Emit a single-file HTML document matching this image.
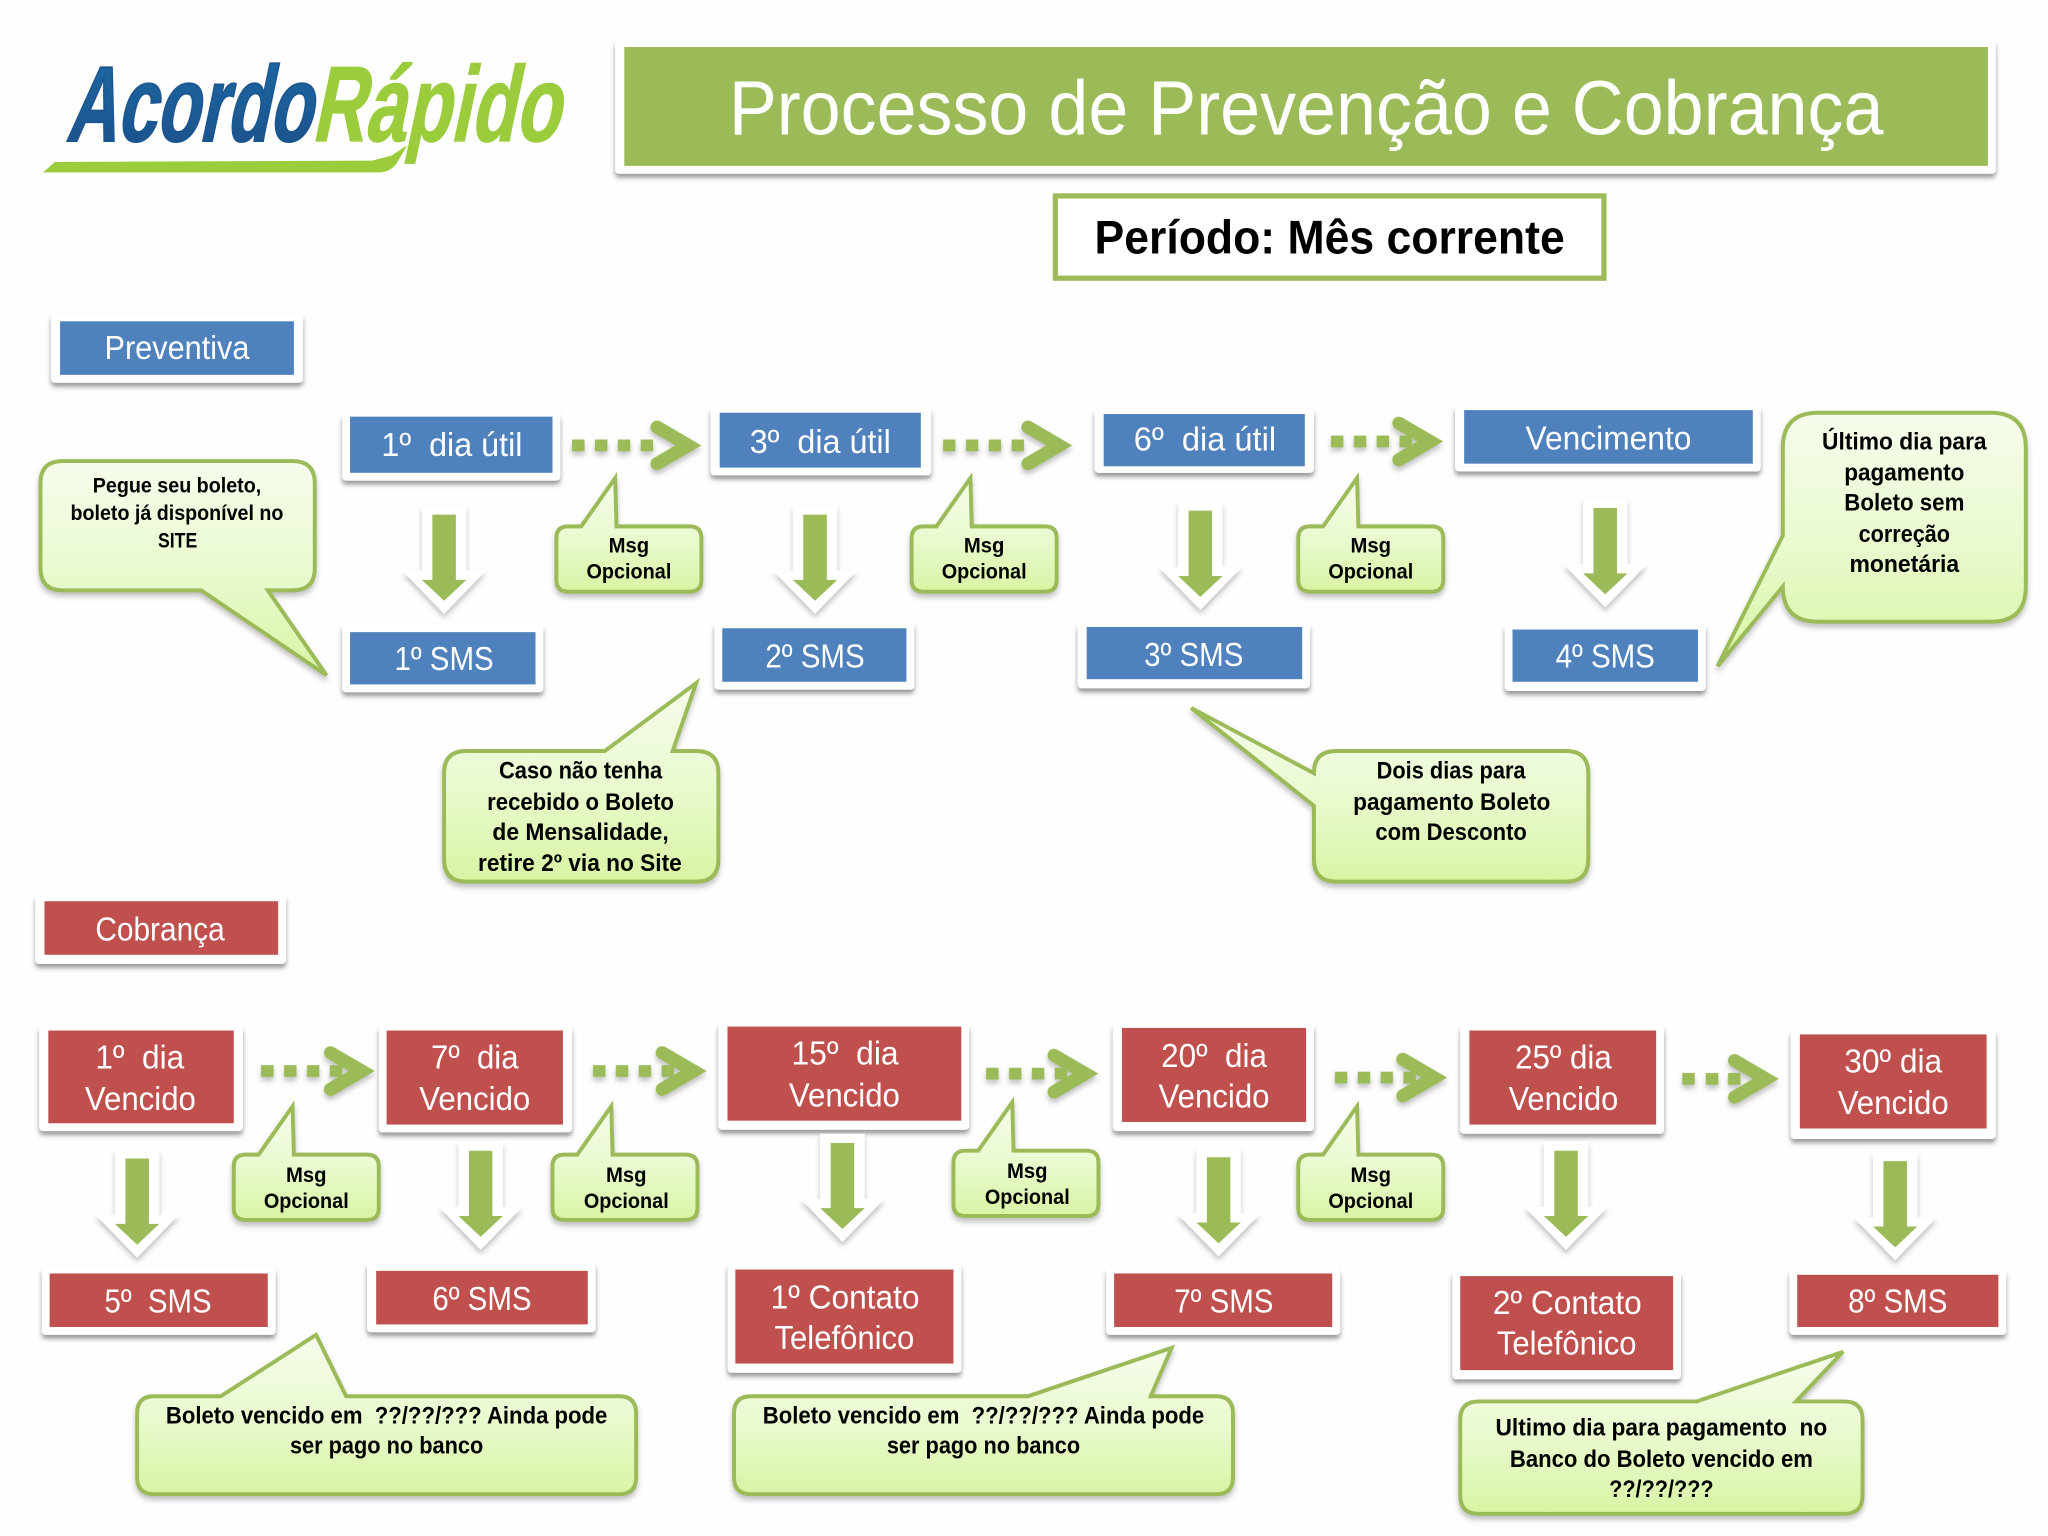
<!DOCTYPE html>
<html lang="pt">
<head>
<meta charset="utf-8">
<title>Processo de Prevenção e Cobrança</title>
<style>
html,body{margin:0;padding:0;background:#fff;width:2048px;height:1536px;overflow:hidden}
svg{display:block}
text{font-family:"Liberation Sans",sans-serif}
.w{fill:#fff;font-size:25.5px}
.b{fill:#000;font-weight:bold;font-size:18.5px}
.m{fill:#000;font-weight:bold;font-size:16px}
.fr rect{fill:#fff}
.bl{fill:#4F81BD}
.rd{fill:#C0504D}
.co{fill:url(#g);stroke:#9BBB59;stroke-width:3;stroke-linejoin:miter}
</style>
</head>
<body>
<svg xmlns="http://www.w3.org/2000/svg" width="2048" height="1536" viewBox="0 0 1568 1176">
<defs>
<filter id="s" x="-10%" y="-10%" width="120%" height="130%"><feDropShadow dx="0" dy="3" stdDeviation="1.8" flood-color="#555" flood-opacity=".6"/></filter>
<filter id="s2" x="-10%" y="-10%" width="120%" height="130%"><feDropShadow dx="0" dy="3" stdDeviation="2" flood-color="#777" flood-opacity=".45"/></filter>
<linearGradient id="g" x1="0" y1="0" x2="0" y2="1"><stop offset="0" stop-color="#f6fcec"/><stop offset=".5" stop-color="#eafad0"/><stop offset="1" stop-color="#d9f4a4"/></linearGradient>
<linearGradient id="lb" x1="0" y1="0" x2="0" y2="1"><stop offset="0" stop-color="#1d6aa5"/><stop offset="1" stop-color="#1b4f8a"/></linearGradient>
<g id="dots"><rect x="0" y="-4.5" width="9.5" height="9" fill="#9BBB59"/><rect x="17.5" y="-4.5" width="9.5" height="9" fill="#9BBB59"/><rect x="35" y="-4.5" width="9.5" height="9" fill="#9BBB59"/><rect x="52.5" y="-4.5" width="9.5" height="9" fill="#9BBB59"/></g>
<polyline id="chev" points="-34,-14 -10,0 -34,14" fill="none" stroke="#9BBB59" stroke-width="10" stroke-linecap="round" stroke-linejoin="miter"/>
<g id="down"><polygon points="-17,-7 17,-7 17,43 32,43 0,76 -32,43 -17,43" fill="#fff" filter="url(#s2)"/><polygon points="-9,0 9,0 9,50 17,50 0,66 -17,50 -9,50" fill="#9BBB59"/></g>
<path id="msg" class="co" d="M9 0H19L45-37L46 0H102Q111 0 111 9V41Q111 50 102 50H9Q0 50 0 41V9Q0 0 9 0Z"/>
</defs>

<rect width="1568" height="1176" fill="#fefefe"/>

<!-- logo -->
<path d="M33 132L42 124L285 123L300 119L312 111L303 126Q298 132 290 132Z" fill="#9bcc3c"/>
<text transform="translate(50 108) skewX(-12)" font-size="82" font-weight="bold" fill="url(#lb)" stroke="#1b5590" stroke-width="1.5" textLength="188" lengthAdjust="spacingAndGlyphs">Acordo</text>
<text transform="translate(238 108) skewX(-12)" font-size="82" font-weight="bold" fill="#9bcc3c" stroke="#9bcc3c" stroke-width="1" textLength="190" lengthAdjust="spacingAndGlyphs">Rápido</text>

<!-- frames -->
<g class="fr" filter="url(#s)">
<rect x="471" y="31" width="1057" height="102" rx="3"/>
<rect x="39" y="240" width="193" height="53" rx="3"/>
<rect x="262" y="316" width="167" height="52" rx="3"/>
<rect x="544" y="312" width="169" height="52" rx="3"/>
<rect x="838" y="313" width="168" height="49" rx="3"/>
<rect x="1114" y="310" width="234" height="51" rx="3"/>
<rect x="262" y="478" width="154" height="52" rx="3"/>
<rect x="547" y="476" width="153" height="52" rx="3"/>
<rect x="825" y="477" width="178" height="50" rx="3"/>
<rect x="1152" y="478" width="154" height="51" rx="3"/>
<rect x="27" y="685" width="192" height="53" rx="3"/>
<rect x="30" y="785" width="156" height="81" rx="3"/>
<rect x="290" y="785" width="148" height="82" rx="3"/>
<rect x="550" y="783" width="192" height="82" rx="3"/>
<rect x="852" y="784" width="154" height="82" rx="3"/>
<rect x="1118" y="785" width="156" height="83" rx="3"/>
<rect x="1371" y="788" width="157" height="84" rx="3"/>
<rect x="32" y="970" width="179" height="52" rx="3"/>
<rect x="281" y="966" width="175" height="54" rx="3"/>
<rect x="557" y="968" width="179" height="83" rx="3"/>
<rect x="847" y="971" width="179" height="51" rx="3"/>
<rect x="1112" y="973" width="175" height="83" rx="3"/>
<rect x="1370" y="972" width="166" height="50" rx="3"/>
</g>

<!-- inner fills -->
<rect x="478" y="36" width="1044" height="91" fill="#9BBB59"/>
<rect x="46" y="246" width="179" height="41" class="bl"/>
<rect x="268" y="319" width="155" height="43" class="bl"/>
<rect x="551" y="316" width="154" height="42" class="bl"/>
<rect x="845" y="317" width="154" height="40" class="bl"/>
<rect x="1121" y="314" width="221" height="41" class="bl"/>
<rect x="268" y="484" width="142" height="40" class="bl"/>
<rect x="553" y="481" width="141" height="41" class="bl"/>
<rect x="832" y="480" width="165" height="40" class="bl"/>
<rect x="1158" y="482" width="142" height="40" class="bl"/>
<rect x="34" y="690" width="179" height="41" class="rd"/>
<rect x="37" y="789" width="142" height="71" class="rd"/>
<rect x="296" y="789" width="135" height="72" class="rd"/>
<rect x="557" y="786" width="179" height="72" class="rd"/>
<rect x="859" y="787" width="141" height="72" class="rd"/>
<rect x="1125" y="789" width="143" height="72" class="rd"/>
<rect x="1378" y="792" width="143" height="72" class="rd"/>
<rect x="38" y="975" width="167" height="41" class="rd"/>
<rect x="288" y="973" width="162" height="41" class="rd"/>
<rect x="563" y="972" width="167" height="72" class="rd"/>
<rect x="853" y="975" width="167" height="41" class="rd"/>
<rect x="1118" y="977" width="163" height="72" class="rd"/>
<rect x="1376" y="976" width="154" height="40" class="rd"/>

<!-- período -->
<rect x="808" y="150" width="420" height="63" fill="#fff" stroke="#9BBB59" stroke-width="4"/>

<!-- dotted arrows -->
<g filter="url(#s2)">
<use href="#dots" x="438" y="341"/><use href="#chev" x="537" y="341"/>
<use href="#dots" x="722" y="341"/><use href="#chev" x="821" y="341"/>
<use href="#dots" x="1019" y="338"/><use href="#chev" x="1105" y="338"/>
<use href="#dots" x="200" y="820"/><use href="#chev" x="287" y="820"/>
<use href="#dots" x="454" y="820"/><use href="#chev" x="541" y="820"/>
<use href="#dots" x="755" y="822"/><use href="#chev" x="841" y="822"/>
<use href="#dots" x="1022" y="825"/><use href="#chev" x="1108" y="825"/>
<rect x="1288" y="821.5" width="9.5" height="9" fill="#9BBB59"/><rect x="1306" y="821.5" width="9.5" height="9" fill="#9BBB59"/><rect x="1323" y="821.5" width="9.5" height="9" fill="#9BBB59"/>
<use href="#chev" x="1362" y="826"/>
</g>

<!-- down arrows -->
<use href="#down" x="340" y="394"/>
<use href="#down" x="624" y="394"/>
<use href="#down" x="919" y="391"/>
<use href="#down" x="1229" y="389"/>
<use href="#down" x="105" y="887"/>
<use href="#down" x="368" y="881"/>
<use href="#down" x="645" y="875"/>
<use href="#down" x="933" y="886"/>
<use href="#down" x="1199" y="881"/>
<use href="#down" x="1451" y="889"/>

<!-- callouts -->
<g filter="url(#s2)">
<path class="co" d="M48 353H224Q241 353 241 370V435Q241 452 224 452H205L250 517L154 452H48Q31 452 31 435V370Q31 353 48 353Z"/>
<path class="co" d="M357 575H463L533 523L515 575H533Q550 575 550 592V658Q550 675 533 675H357Q340 675 340 658V592Q340 575 357 575Z"/>
<path class="co" d="M1023 575H1199Q1216 575 1216 592V658Q1216 675 1199 675H1023Q1006 675 1006 658V617L912 542L1006 592Q1006 575 1023 575Z"/>
<path class="co" d="M1392 316H1524Q1551 316 1551 343V449Q1551 476 1524 476H1392Q1365 476 1365 449L1315 510L1365 410V343Q1365 316 1392 316Z"/>
<path class="co" d="M118 1069H169L242 1022L265 1069H474Q487 1069 487 1082V1131Q487 1144 474 1144H118Q105 1144 105 1131V1082Q105 1069 118 1069Z"/>
<path class="co" d="M575 1069H787L897 1032L881 1069H931Q944 1069 944 1082V1131Q944 1144 931 1144H575Q562 1144 562 1131V1082Q562 1069 575 1069Z"/>
<path class="co" d="M1132 1073H1299L1411 1035L1375 1073H1412Q1426 1073 1426 1087V1145Q1426 1159 1412 1159H1132Q1118 1159 1118 1145V1087Q1118 1073 1132 1073Z"/>
<use href="#msg" x="426" y="403"/>
<use href="#msg" x="698" y="403"/>
<use href="#msg" x="994" y="403"/>
<use href="#msg" x="179" y="884"/>
<use href="#msg" x="423" y="884"/>
<use href="#msg" x="730" y="881"/>
<use href="#msg" x="994" y="884"/>
</g>

<!-- headings -->
<text x="558" y="103" font-size="59" fill="#fff" textLength="884" lengthAdjust="spacingAndGlyphs">Processo de Prevenção e Cobrança</text>
<text x="838" y="194" font-size="36" font-weight="bold" fill="#000" textLength="360" lengthAdjust="spacingAndGlyphs">Período: Mês corrente</text>

<!-- white labels -->
<text class="w" x="80" y="275" textLength="111" lengthAdjust="spacingAndGlyphs">Preventiva</text>
<text class="w" x="292" y="349" textLength="108" lengthAdjust="spacingAndGlyphs">1º&#160; dia útil</text>
<text class="w" x="574" y="347" textLength="108" lengthAdjust="spacingAndGlyphs">3º&#160; dia útil</text>
<text class="w" x="868" y="345" textLength="109" lengthAdjust="spacingAndGlyphs">6º&#160; dia útil</text>
<text class="w" x="1168" y="344" textLength="127" lengthAdjust="spacingAndGlyphs">Vencimento</text>
<text class="w" x="302" y="513" textLength="76" lengthAdjust="spacingAndGlyphs">1º SMS</text>
<text class="w" x="586" y="511" textLength="76" lengthAdjust="spacingAndGlyphs">2º SMS</text>
<text class="w" x="876" y="510" textLength="76" lengthAdjust="spacingAndGlyphs">3º SMS</text>
<text class="w" x="1191" y="511" textLength="76" lengthAdjust="spacingAndGlyphs">4º SMS</text>
<text class="w" x="73" y="720" textLength="99" lengthAdjust="spacingAndGlyphs">Cobrança</text>
<text class="w" x="73" y="818" textLength="68" lengthAdjust="spacingAndGlyphs">1º&#160; dia</text>
<text class="w" x="65" y="850" textLength="85" lengthAdjust="spacingAndGlyphs">Vencido</text>
<text class="w" x="330" y="818" textLength="67" lengthAdjust="spacingAndGlyphs">7º&#160; dia</text>
<text class="w" x="321" y="850" textLength="85" lengthAdjust="spacingAndGlyphs">Vencido</text>
<text class="w" x="606" y="815" textLength="82" lengthAdjust="spacingAndGlyphs">15º&#160; dia</text>
<text class="w" x="604" y="847" textLength="85" lengthAdjust="spacingAndGlyphs">Vencido</text>
<text class="w" x="889" y="817" textLength="81" lengthAdjust="spacingAndGlyphs">20º&#160; dia</text>
<text class="w" x="887" y="848" textLength="85" lengthAdjust="spacingAndGlyphs">Vencido</text>
<text class="w" x="1160" y="818" textLength="74" lengthAdjust="spacingAndGlyphs">25º dia</text>
<text class="w" x="1155" y="850" textLength="84" lengthAdjust="spacingAndGlyphs">Vencido</text>
<text class="w" x="1412" y="821" textLength="75" lengthAdjust="spacingAndGlyphs">30º dia</text>
<text class="w" x="1407" y="853" textLength="85" lengthAdjust="spacingAndGlyphs">Vencido</text>
<text class="w" x="80" y="1005" textLength="82" lengthAdjust="spacingAndGlyphs">5º&#160; SMS</text>
<text class="w" x="331" y="1003" textLength="76" lengthAdjust="spacingAndGlyphs">6º SMS</text>
<text class="w" x="590" y="1002" textLength="114" lengthAdjust="spacingAndGlyphs">1º Contato</text>
<text class="w" x="593" y="1033" textLength="107" lengthAdjust="spacingAndGlyphs">Telefônico</text>
<text class="w" x="899" y="1005" textLength="76" lengthAdjust="spacingAndGlyphs">7º SMS</text>
<text class="w" x="1143" y="1006" textLength="114" lengthAdjust="spacingAndGlyphs">2º Contato</text>
<text class="w" x="1146" y="1037" textLength="107" lengthAdjust="spacingAndGlyphs">Telefônico</text>
<text class="w" x="1415" y="1005" textLength="76" lengthAdjust="spacingAndGlyphs">8º SMS</text>

<!-- msg labels -->
<text class="m" x="466" y="423" textLength="31" lengthAdjust="spacingAndGlyphs">Msg</text>
<text class="m" x="449" y="443" textLength="65" lengthAdjust="spacingAndGlyphs">Opcional</text>
<text class="m" x="738" y="423" textLength="31" lengthAdjust="spacingAndGlyphs">Msg</text>
<text class="m" x="721" y="443" textLength="65" lengthAdjust="spacingAndGlyphs">Opcional</text>
<text class="m" x="1034" y="423" textLength="31" lengthAdjust="spacingAndGlyphs">Msg</text>
<text class="m" x="1017" y="443" textLength="65" lengthAdjust="spacingAndGlyphs">Opcional</text>
<text class="m" x="219" y="905" textLength="31" lengthAdjust="spacingAndGlyphs">Msg</text>
<text class="m" x="202" y="925" textLength="65" lengthAdjust="spacingAndGlyphs">Opcional</text>
<text class="m" x="464" y="905" textLength="31" lengthAdjust="spacingAndGlyphs">Msg</text>
<text class="m" x="447" y="925" textLength="65" lengthAdjust="spacingAndGlyphs">Opcional</text>
<text class="m" x="771" y="902" textLength="31" lengthAdjust="spacingAndGlyphs">Msg</text>
<text class="m" x="754" y="922" textLength="65" lengthAdjust="spacingAndGlyphs">Opcional</text>
<text class="m" x="1034" y="905" textLength="31" lengthAdjust="spacingAndGlyphs">Msg</text>
<text class="m" x="1017" y="925" textLength="65" lengthAdjust="spacingAndGlyphs">Opcional</text>

<!-- callout labels -->
<text class="m" x="71" y="377" textLength="129" lengthAdjust="spacingAndGlyphs">Pegue seu boleto,</text>
<text class="m" x="54" y="398" textLength="163" lengthAdjust="spacingAndGlyphs">boleto já disponível no</text>
<text class="m" x="121" y="419" textLength="30" lengthAdjust="spacingAndGlyphs">SITE</text>

<text class="b" x="382" y="596" textLength="125" lengthAdjust="spacingAndGlyphs">Caso não tenha</text>
<text class="b" x="373" y="620" textLength="143" lengthAdjust="spacingAndGlyphs">recebido o Boleto</text>
<text class="b" x="377" y="643" textLength="135" lengthAdjust="spacingAndGlyphs">de Mensalidade,</text>
<text class="b" x="366" y="667" textLength="156" lengthAdjust="spacingAndGlyphs">retire 2º via no Site</text>

<text class="b" x="1054" y="596" textLength="114" lengthAdjust="spacingAndGlyphs">Dois dias para</text>
<text class="b" x="1036" y="620" textLength="151" lengthAdjust="spacingAndGlyphs">pagamento Boleto</text>
<text class="b" x="1053" y="643" textLength="116" lengthAdjust="spacingAndGlyphs">com Desconto</text>

<text class="b" x="1395" y="344" textLength="126" lengthAdjust="spacingAndGlyphs">Último dia para</text>
<text class="b" x="1412" y="368" textLength="92" lengthAdjust="spacingAndGlyphs">pagamento</text>
<text class="b" x="1412" y="391" textLength="92" lengthAdjust="spacingAndGlyphs">Boleto sem</text>
<text class="b" x="1423" y="415" textLength="70" lengthAdjust="spacingAndGlyphs">correção</text>
<text class="b" x="1416" y="438" textLength="84" lengthAdjust="spacingAndGlyphs">monetária</text>

<text class="b" x="127" y="1090" textLength="338" lengthAdjust="spacingAndGlyphs">Boleto vencido em&#160; ??/??/??? Ainda pode</text>
<text class="b" x="222" y="1113" textLength="148" lengthAdjust="spacingAndGlyphs">ser pago no banco</text>
<text class="b" x="584" y="1090" textLength="338" lengthAdjust="spacingAndGlyphs">Boleto vencido em&#160; ??/??/??? Ainda pode</text>
<text class="b" x="679" y="1113" textLength="148" lengthAdjust="spacingAndGlyphs">ser pago no banco</text>

<text class="b" x="1145" y="1099" textLength="254" lengthAdjust="spacingAndGlyphs">Ultimo dia para pagamento&#160; no</text>
<text class="b" x="1156" y="1123" textLength="232" lengthAdjust="spacingAndGlyphs">Banco do Boleto vencido em</text>
<text class="b" x="1232" y="1146" textLength="80" lengthAdjust="spacingAndGlyphs">??/??/???</text>
</svg>
</body>
</html>
